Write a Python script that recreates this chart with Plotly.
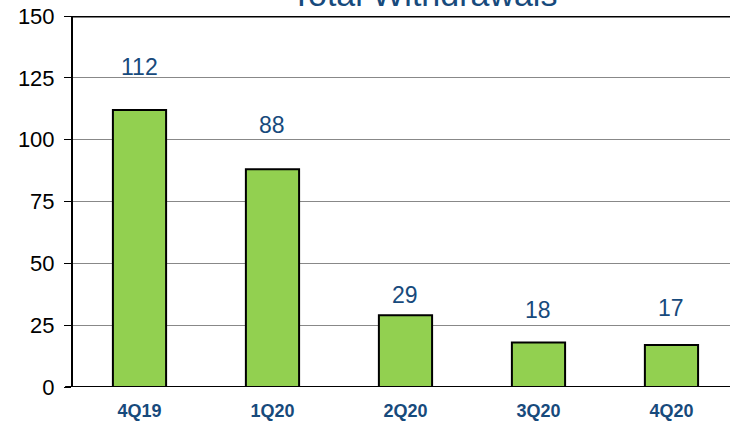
import plotly.graph_objects as go

categories = ["4Q19", "1Q20", "2Q20", "3Q20", "4Q20"]
withdrawals = [112, 88, 29, 18, 17]
y_ticks = [0, 25, 50, 75, 100, 125, 150]
title_text = "Total Withdrawals"

# styling: label pixel lift above each bar top
label_lift = [43, 44, 20, 32, 37]

BLUE = "#174A7C"
FONT = "Liberation Sans, Arial, sans-serif"

fig = go.Figure()
fig.add_trace(go.Bar(
    x=categories, y=withdrawals, width=0.4,
    marker=dict(color="#92D050", line=dict(color="black", width=2)),
    hoverinfo="skip",
))

for c, v, s in zip(categories, withdrawals, label_lift):
    fig.add_annotation(x=c, y=v, text=str(v), showarrow=False, yshift=s,
                       font=dict(family=FONT, size=23, color=BLUE),
                       xanchor="center", yanchor="middle")

fig.add_annotation(x=0.535, xref="paper", y=1, yref="paper", text=title_text,
                   showarrow=False, xanchor="center", yanchor="bottom", yshift=1,
                   font=dict(family=FONT, size=34, color=BLUE))

fig.update_layout(
    width=730, height=425,
    margin=dict(l=73, r=0, t=16, b=38, autoexpand=False),
    plot_bgcolor="white", paper_bgcolor="white",
    showlegend=False,
    xaxis=dict(range=[-0.5, 4.44], showgrid=False, zeroline=False,
               showline=False, ticks="", automargin=False, ticklabelstandoff=11,
               tickfont=dict(family=FONT, size=18, color=BLUE, weight="bold")),
    yaxis=dict(range=[0, 150], tickvals=y_ticks, showgrid=True, automargin=False,
               gridcolor="#888888", gridwidth=1, zeroline=False,
               showline=True, linecolor="black", linewidth=2,
               ticks="outside", ticklen=7, tickcolor="black", tickwidth=1,
               ticklabelstandoff=5,
               tickfont=dict(family=FONT, size=22, color="black")),
)
# top border at 150 and baseline
fig.add_shape(type="line", xref="paper", yref="y", x0=0, x1=1, y0=150, y1=150,
              line=dict(color="black", width=3))
fig.add_shape(type="line", xref="paper", yref="y", x0=-0.012, x1=1, y0=0, y1=0,
              line=dict(color="black", width=2))

fig.write_html("out.html", config={"displayModeBar": False},
               post_script="document.body.style.margin='0';")
